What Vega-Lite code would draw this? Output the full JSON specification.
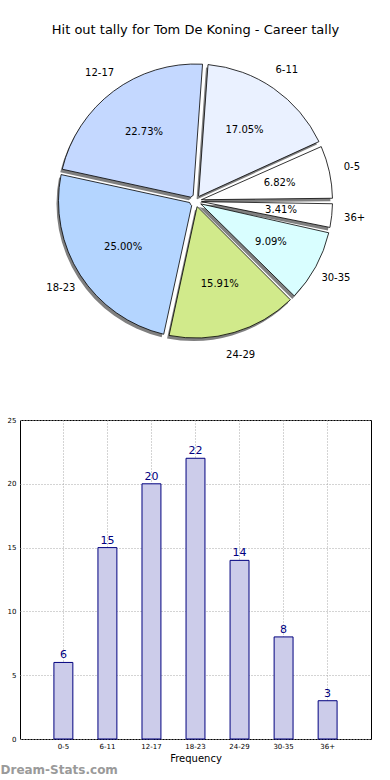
{
  "$schema": "https://vega.github.io/schema/vega-lite/v6.json",
  "padding": {"top": 24, "left": 0, "right": 0, "bottom": 0},
  "config": {"font": "DejaVu Sans", "concat": {"spacing": 55}},
  "datasets": {
    "d": [
      {"cat": "0-5", "value": 6, "idx": 1, "pct": "6.82%"},
      {"cat": "6-11", "value": 15, "idx": 2, "pct": "17.05%"},
      {"cat": "12-17", "value": 20, "idx": 3, "pct": "22.73%"},
      {"cat": "18-23", "value": 22, "idx": 4, "pct": "25.00%"},
      {"cat": "24-29", "value": 14, "idx": 5, "pct": "15.91%"},
      {"cat": "30-35", "value": 8, "idx": 6, "pct": "9.09%"},
      {"cat": "36+", "value": 3, "idx": 7, "pct": "3.41%"}
    ]
  },
  "title": {"text": "Dream-Stats.com", "orient": "bottom", "anchor": "start", "frame": "bounds", "color": "#9a9a9a", "fontSize": 12, "fontWeight": "bold", "offset": 1},
  "vconcat": [
    {
      "width": 351,
      "height": 312,
      "title": {"text": "Hit out tally for Tom De Koning - Career tally", "fontSize": 13, "fontWeight": "normal", "color": "#000000", "offset": 8},
      "data": {"name": "d"},
      "view": {"stroke": null},
      "encoding": {
        "theta": {"field": "value", "type": "quantitative", "stack": true, "scale": {"range": [1.5707963, -4.712389]}},
        "order": {"field": "idx", "type": "quantitative"}
      },
      "layer": [
        {
          "mark": {"type": "arc", "innerRadius": 6, "outerRadius": 137, "padAngle": 0.04, "fill": "#808080", "xOffset": -2, "yOffset": 3}
        },
        {
          "mark": {"type": "arc", "innerRadius": 6, "outerRadius": 137, "padAngle": 0.04, "stroke": "#000000", "strokeWidth": 0.8},
          "encoding": {
            "color": {"field": "cat", "type": "nominal", "legend": null,
              "scale": {"domain": ["0-5", "6-11", "12-17", "18-23", "24-29", "30-35", "36+"],
                        "range": ["#ffffff", "#eaf1ff", "#c4d8ff", "#b4d5ff", "#d1ea8b", "#d9feff", "#ffffff"]}}
          }
        },
        {
          "mark": {"type": "text", "radius": 86, "fontSize": 10, "color": "#000000"},
          "encoding": {"text": {"field": "pct", "type": "nominal"}}
        },
        {
          "mark": {"type": "text", "radius": 160, "fontSize": 10, "color": "#000000"},
          "encoding": {"text": {"field": "cat", "type": "nominal"}}
        }
      ]
    },
    {
      "width": 351,
      "height": 319,
      "data": {"name": "d"},
      "view": {"stroke": "#000000", "strokeWidth": 1},
      "encoding": {
        "x": {"field": "cat", "type": "nominal", "sort": ["0-5", "6-11", "12-17", "18-23", "24-29", "30-35", "36+"],
          "scale": {"paddingInner": 0.57, "paddingOuter": 0.77},
          "axis": {"title": "Frequency", "titleFontSize": 10, "titleFontWeight": "normal", "titleColor": "#000000", "titlePadding": 4,
                   "labelAngle": 0, "labelFontSize": 7, "labelColor": "#000000", "labelPadding": 3, "tickSize": 0, "domain": false,
                   "grid": true, "bandPosition": 0.5, "gridDash": [1, 2], "gridColor": "#a8a8a8", "gridWidth": 1}},
        "y": {"field": "value", "type": "quantitative", "scale": {"domain": [0, 25], "nice": false},
          "axis": {"title": null, "values": [0, 5, 10, 15, 20, 25], "labelFontSize": 7, "labelColor": "#000000", "labelPadding": 4, "tickSize": 0, "domain": false,
                   "minExtent": 19, "maxExtent": 19,
                   "grid": true, "gridDash": [1, 2], "gridColor": "#a8a8a8", "gridWidth": 1}}
      },
      "layer": [
        {"mark": {"type": "bar", "fill": "#ccccea", "stroke": "#00007f", "strokeWidth": 1}},
        {"mark": {"type": "text", "baseline": "bottom", "dy": -2, "fontSize": 11, "color": "#00007f"},
         "encoding": {"text": {"field": "value", "type": "quantitative"}}}
      ]
    }
  ]
}
